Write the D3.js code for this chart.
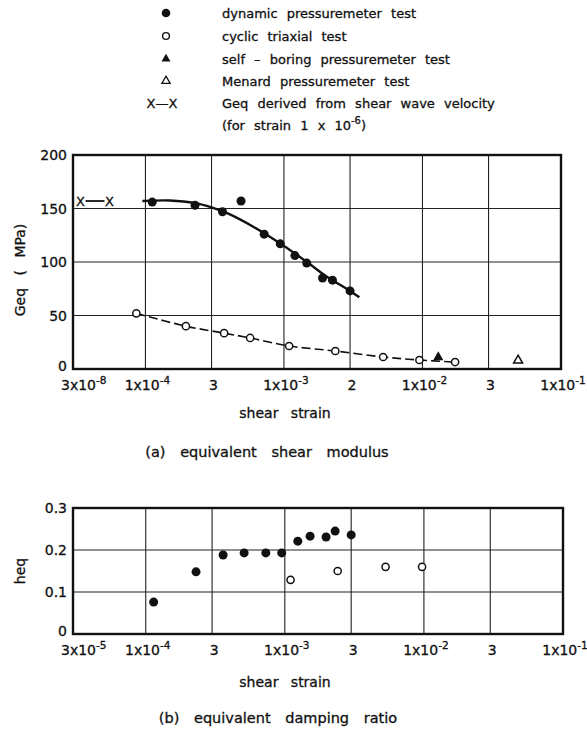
<!DOCTYPE html>
<html>
<head>
<meta charset="UTF-8">
<title>Equivalent shear modulus and damping ratio</title>
<style>
  html, body { margin: 0; padding: 0; background: #fff; }
  svg { display: block; }
  text { font-family: "DejaVu Sans", sans-serif; fill: #111; stroke: #111; stroke-width: 0.3px; }
  .frame { fill: none; stroke: #111; stroke-width: 2.4px; }
  .grid line { stroke: #222; stroke-width: 1.1px; }
  .tick { font-size: 14px; }
  .lbl { font-size: 14px; word-spacing: 8px; }
  .cap { font-size: 14.5px; word-spacing: 10px; }
  .legend text { font-size: 13px; word-spacing: 5px; }
</style>
</head>
<body>
<svg width="587" height="733"></svg>
<script src="https://d3js.org/d3.v7.min.js"></script>
<script>
// strain tick values and their printed labels [base, exponent]
const strainTicks = [3e-5, 1e-4, 3e-4, 1e-3, 3e-3, 1e-2, 3e-2, 1e-1];
const topTickLabels = [["3x10", "-8"], ["1x10", "-4"], ["3", ""], ["1x10", "-3"], ["2", ""], ["1x10", "-2"], ["3", ""], ["1x10", "-1"]];
const botTickLabels = [["3x10", "-5"], ["1x10", "-4"], ["3", ""], ["1x10", "-3"], ["3", ""], ["1x10", "-2"], ["3", ""], ["1x10", "-1"]];
const gTicks = [0, 50, 100, 150, 200];
const hTicks = [0, 0.1, 0.2, 0.3];

// (a) Geq, MPa
const dynStrainG = [1.12e-4, 2.28e-4, 3.6e-4, 4.9e-4, 7.2e-4, 9.4e-4, 1.2e-3, 1.46e-3, 1.9e-3, 2.24e-3, 3.0e-3];
const dynG = [156, 153, 147, 157, 126, 117, 106, 99, 85, 83, 73];
const fitStrain = [9.5e-5, 1.5e-4, 2.3e-4, 3e-4, 4e-4, 6e-4, 1e-3, 1.5e-3, 2e-3, 3e-3, 3.5e-3];
const fitG = [157, 157.5, 155, 151, 145, 133, 115, 99, 87, 73, 67];
const triStrainG = [8.6e-5, 1.96e-4, 3.7e-4, 5.7e-4, 1.09e-3, 2.35e-3, 5.2e-3, 9.5e-3, 1.72e-2];
const triG = [52, 40, 33.5, 29, 21.5, 16.8, 11.2, 8.4, 6.5];
const sbpStrain = [1.3e-2];
const sbpG = [11];
const menStrain = [4.9e-2];
const menG = [8];
const swStrain = [3.4e-5, 5.5e-5];
const swG = [157, 157];

// (b) heq
const dynStrainH = [1.14e-4, 2.3e-4, 3.6e-4, 5.1e-4, 7.3e-4, 9.5e-4, 1.24e-3, 1.52e-3, 1.98e-3, 2.3e-3, 3.0e-3];
const dynH = [0.076, 0.148, 0.188, 0.193, 0.193, 0.193, 0.221, 0.233, 0.231, 0.245, 0.236];
const triStrainH = [1.1e-3, 2.4e-3, 5.3e-3, 9.7e-3];
const triH = [0.129, 0.15, 0.16, 0.16];

const svg = d3.select("svg");
const zip = (a, b) => a.map((v, i) => [v, b[i]]);

function tickText(sel, x, y, lab, anchor) {
  const t = sel.append("text").attr("class", "tick").attr("x", x).attr("y", y)
    .attr("text-anchor", anchor);
  t.append("tspan").text(lab[0]);
  if (lab[1]) t.append("tspan").attr("dy", -6).attr("font-size", 10.5).text(lab[1]);
}

function panel(opt) {
  const x = d3.scaleLog().domain([3e-5, 1e-1]).range([opt.left, opt.right]);
  const y = d3.scaleLinear().domain(opt.ydomain).range([opt.bottom, opt.top]);
  const g = svg.append("g");

  // grid
  const grid = g.append("g").attr("class", "grid");
  grid.selectAll(".vx").data(strainTicks.slice(1, -1)).join("line")
    .attr("x1", d => x(d)).attr("x2", d => x(d))
    .attr("y1", opt.top).attr("y2", opt.bottom);
  grid.selectAll(".hy").data(opt.yticks.slice(1, -1)).join("line")
    .attr("x1", opt.left).attr("x2", opt.right)
    .attr("y1", d => y(d)).attr("y2", d => y(d));
  g.append("rect").attr("class", "frame")
    .attr("x", opt.left).attr("y", opt.top)
    .attr("width", opt.right - opt.left).attr("height", opt.bottom - opt.top);

  // x tick labels
  strainTicks.forEach((t, i) => {
    if (i === 0) tickText(g, x(t) - 12, opt.bottom + opt.xlabDy, opt.xlabels[i], "start");
    else tickText(g, x(t) + 2, opt.bottom + opt.xlabDy, opt.xlabels[i], "middle");
  });
  // y tick labels (the 0 sits a little higher, clear of the strain labels)
  g.selectAll(".yl").data(opt.yticks).join("text").attr("class", "tick")
    .attr("x", opt.left - 6).attr("y", d => y(d) + (d === 0 ? 2 : 5)).attr("text-anchor", "end")
    .text(opt.yfmt);

  return { x, y, g };
}

// ---------- (a) equivalent shear modulus ----------
const a = panel({
  left: 73, right: 561, top: 155, bottom: 369,
  ydomain: [0, 200], yticks: gTicks, yfmt: d => d,
  xlabels: topTickLabels, xlabDy: 21
});

a.g.append("path")
  .datum(zip(fitStrain, fitG))
  .attr("fill", "none").attr("stroke", "#111").attr("stroke-width", 2.4)
  .attr("d", d3.line().x(d => a.x(d[0])).y(d => a.y(d[1])).curve(d3.curveCatmullRom));

a.g.append("path")
  .datum(zip(triStrainG, triG))
  .attr("fill", "none").attr("stroke", "#111").attr("stroke-width", 1.6)
  .attr("stroke-dasharray", "9,4")
  .attr("d", d3.line().x(d => a.x(d[0])).y(d => a.y(d[1])).curve(d3.curveCatmullRom));

a.g.selectAll(".dynG").data(zip(dynStrainG, dynG)).join("circle")
  .attr("cx", d => a.x(d[0])).attr("cy", d => a.y(d[1])).attr("r", 4.5).attr("fill", "#111");

a.g.selectAll(".triG").data(zip(triStrainG, triG)).join("circle")
  .attr("cx", d => a.x(d[0])).attr("cy", d => a.y(d[1])).attr("r", 3.6)
  .attr("fill", "#fff").attr("stroke", "#111").attr("stroke-width", 1.5);

const tri = d3.symbol().type(d3.symbolTriangle).size(45);
a.g.selectAll(".sbp").data(zip(sbpStrain, sbpG)).join("path")
  .attr("transform", d => `translate(${a.x(d[0])},${a.y(d[1])})`)
  .attr("d", tri).attr("fill", "#111");
a.g.selectAll(".men").data(zip(menStrain, menG)).join("path")
  .attr("transform", d => `translate(${a.x(d[0])},${a.y(d[1])})`)
  .attr("d", d3.symbol().type(d3.symbolTriangle).size(35))
  .attr("fill", "#fff").attr("stroke", "#111").attr("stroke-width", 1.5);

// x—x shear wave value
a.g.append("line")
  .attr("x1", a.x(swStrain[0]) + 5).attr("x2", a.x(swStrain[1]) - 5)
  .attr("y1", a.y(swG[0])).attr("y2", a.y(swG[1]))
  .attr("stroke", "#111").attr("stroke-width", 1.8);
a.g.selectAll(".sw").data(zip(swStrain, swG)).join("text")
  .attr("x", d => a.x(d[0])).attr("y", d => a.y(d[1]) + 5)
  .attr("text-anchor", "middle").attr("font-size", 13).text("X");

svg.append("text").attr("class", "lbl")
  .attr("transform", "translate(25,270) rotate(-90)").attr("text-anchor", "middle")
  .text("Geq ( MPa)");
svg.append("text").attr("class", "lbl").attr("x", 285).attr("y", 418)
  .attr("text-anchor", "middle").text("shear strain");
svg.append("text").attr("class", "cap").attr("x", 267).attr("y", 457)
  .attr("text-anchor", "middle").text("(a) equivalent shear modulus");

// ---------- (b) equivalent damping ratio ----------
const b = panel({
  left: 73, right: 563, top: 508, bottom: 634,
  ydomain: [0, 0.3], yticks: hTicks, yfmt: d => d === 0 ? "0" : d3.format(".1f")(d),
  xlabels: botTickLabels, xlabDy: 21
});

b.g.selectAll(".dynH").data(zip(dynStrainH, dynH)).join("circle")
  .attr("cx", d => b.x(d[0])).attr("cy", d => b.y(d[1])).attr("r", 4.5).attr("fill", "#111");
b.g.selectAll(".triH").data(zip(triStrainH, triH)).join("circle")
  .attr("cx", d => b.x(d[0])).attr("cy", d => b.y(d[1])).attr("r", 3.6)
  .attr("fill", "#fff").attr("stroke", "#111").attr("stroke-width", 1.5);

svg.append("text").attr("class", "lbl")
  .attr("transform", "translate(25,571) rotate(-90)").attr("text-anchor", "middle")
  .text("heq");
svg.append("text").attr("class", "lbl").attr("x", 285).attr("y", 687)
  .attr("text-anchor", "middle").text("shear strain");
svg.append("text").attr("class", "cap").attr("x", 278).attr("y", 723)
  .attr("text-anchor", "middle").text("(b) equivalent damping ratio");

// ---------- legend ----------
const legendRows = [
  "dynamic pressuremeter test",
  "cyclic triaxial test",
  "self – boring pressuremeter test",
  "Menard pressuremeter test",
  "Geq derived from shear wave velocity"
];
const legendY = [13, 36, 59, 81, 103];
const lg = svg.append("g").attr("class", "legend");
const symX = 166, txtX = 222;
lg.selectAll(".lt").data(legendRows).join("text")
  .attr("x", txtX).attr("y", (d, i) => legendY[i] + 5).text(d => d);
lg.append("circle").attr("cx", symX).attr("cy", legendY[0]).attr("r", 4.3).attr("fill", "#111");
lg.append("circle").attr("cx", symX).attr("cy", legendY[1]).attr("r", 3.4)
  .attr("fill", "#fff").attr("stroke", "#111").attr("stroke-width", 1.4);
lg.append("path").attr("transform", `translate(${symX},${legendY[2]})`)
  .attr("d", d3.symbol().type(d3.symbolTriangle).size(35)).attr("fill", "#111");
lg.append("path").attr("transform", `translate(${symX},${legendY[3]})`)
  .attr("d", d3.symbol().type(d3.symbolTriangle).size(30))
  .attr("fill", "#fff").attr("stroke", "#111").attr("stroke-width", 1.3);
lg.append("text").attr("x", symX - 4).attr("y", legendY[4] + 5).attr("text-anchor", "middle")
  .text("X—X");
const sub = lg.append("text").attr("x", txtX).attr("y", 130);
sub.append("tspan").text("(for strain 1 x 10");
sub.append("tspan").attr("dy", -6).attr("font-size", 10).text("-6");
sub.append("tspan").attr("dy", 6).text(")");
</script>
</body>
</html>
